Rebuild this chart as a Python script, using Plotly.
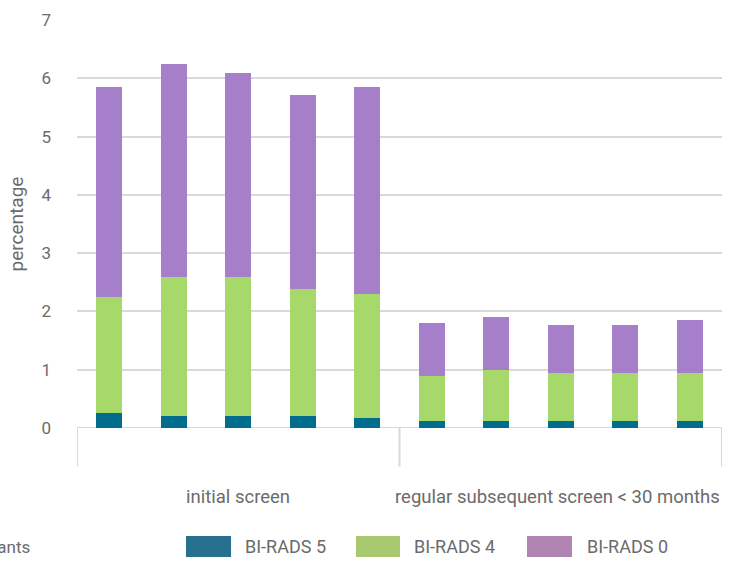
import plotly.graph_objects as go

# Data (percentages)
groups = ["initial screen", "regular subsequent screen < 30 months"]
bars_per_group = 5
birads5 = [0.26, 0.21, 0.21, 0.21, 0.17, 0.12, 0.12, 0.12, 0.12, 0.12]
birads4 = [1.99, 2.38, 2.38, 2.17, 2.13, 0.77, 0.87, 0.82, 0.82, 0.82]
birads0 = [3.60, 3.65, 3.50, 3.33, 3.55, 0.91, 0.91, 0.83, 0.83, 0.91]
series_names = ["BI-RADS 5", "BI-RADS 4", "BI-RADS 0"]
bar_colors = ["#006d8c", "#a6d96a", "#a57fca"]
legend_colors = ["#27708e", "#a8c96e", "#b083b3"]
y_ticks = [0, 1, 2, 3, 4, 5, 6, 7]

x = list(range(len(birads5)))
font_family = "Roboto, 'Open Sans', sans-serif"
grey = "#6b6b6b"
line_grey = "#d9d9d9"

fig = go.Figure()
for name, vals, col in zip(series_names, [birads5, birads4, birads0], bar_colors):
    fig.add_trace(go.Bar(x=x, y=vals, name=name, marker=dict(color=col, line=dict(width=0)),
                         width=0.4, showlegend=False))

fig.update_layout(
    barmode="stack",
    width=741, height=561,
    margin=dict(l=77, r=19, t=20, b=133, autoexpand=False),
    plot_bgcolor="white", paper_bgcolor="white",
    font=dict(family=font_family, color=grey, size=18),
    xaxis=dict(range=[-0.5, 9.5], showticklabels=False, showgrid=False,
               zeroline=False, showline=False, ticks="", automargin=False),
    yaxis=dict(range=[0, 7], tickvals=y_ticks, showgrid=True, gridcolor=line_grey,
               gridwidth=2, zeroline=False, showline=False, ticks="",
               ticklabelstandoff=25, automargin=False,
               tickfont=dict(size=17, color=grey),
               title=dict(text="percentage", font=dict(size=19, color=grey), standoff=12)),
)

# zero line and group divider lines
fig.add_shape(type="line", xref="x", yref="y", x0=-0.5, x1=9.5, y0=0, y1=0,
              line=dict(color=line_grey, width=2), layer="below")
n = len(x)
for xv in [-0.5, bars_per_group - 0.5, n - 0.5]:
    fig.add_shape(type="line", xref="x", yref="paper", x0=xv, x1=xv, y0=0, y1=-0.095,
                  line=dict(color=line_grey, width=2))

# group labels (the last one is pushed left to fit inside the chart)
for gi, g in enumerate(groups):
    if gi == len(groups) - 1:
        gx, anchor = n - 0.5, "right"
    else:
        gx, anchor = gi * bars_per_group + (bars_per_group - 1) / 2, "center"
    fig.add_annotation(x=gx, y=-0.169, xref="x", yref="paper", text=g, showarrow=False,
                       xanchor=anchor, font=dict(size=18.5, color=grey), yanchor="middle")

# custom legend
sw = [(0.169, 0.2388, 0.2574), (0.4326, 0.5008, 0.519), (0.6977, 0.7674, 0.7876)]
for (x0, x1, tx), name, col in zip(sw, series_names, legend_colors):
    fig.add_shape(type="rect", xref="paper", yref="paper", x0=x0, x1=x1, y0=-0.316, y1=-0.265,
                  fillcolor=col, line=dict(width=0))
    fig.add_annotation(x=tx, y=-0.291, xref="paper", yref="paper", text=name, showarrow=False,
                       xanchor="left", yanchor="middle", font=dict(size=18, color=grey))

# legend title, cut off at the left edge as in the reference
fig.add_annotation(x=-0.0698, y=-0.291, xref="paper", yref="paper", text="participants",
                   showarrow=False, xanchor="right", yanchor="middle",
                   font=dict(size=17, color=grey))

fig.write_html("out.html", config={"displayModeBar": False},
               post_script="document.body.style.margin='0';document.body.style.overflow='hidden';")
